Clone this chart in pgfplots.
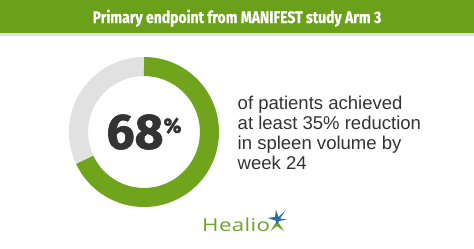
\documentclass[border=0pt]{standalone}
\usepackage{fontspec}
\usepackage{pgfplots}
\usepackage{pgfplotstable}
\pgfplotsset{compat=1.18}
\setmainfont{Liberation Sans}
\newfontfamily\headfont[FakeStretch=0.84,BoldFeatures={FakeBold=0.6}]{Fira Sans}
\newfontfamily\bigfont[BoldFeatures={FakeBold=1.2}]{Fira Sans}
\newfontfamily\logofont[FakeStretch=1.26,LetterSpace=2]{Open Sans}

\definecolor{hgreen}{HTML}{6BA01B}
\definecolor{ringgreen}{HTML}{6FA41C}
\definecolor{ringgrey}{HTML}{E1E1E1}
\definecolor{txt}{HTML}{333333}
\definecolor{logogreen}{HTML}{6CA42A}
\definecolor{logoblue}{HTML}{2A6AA6}

% share of patients reaching the endpoint, and the remainder
\pgfplotstableread{
segment  share
achieved 68
other    32
}\ringdata

\begin{document}
\begin{tikzpicture}[x=1bp,y=1bp]
\pgfplotstablegetelem{0}{share}\of\ringdata
\let\shareA\pgfplotsretval

% page and header band
\fill[white] (0,0) rectangle (474,248);
\fill[black!12] (0,212) rectangle (474,216);
\fill[hgreen] (0,215) rectangle (474,248);
\node[anchor=base, text=white, font=\headfont\bfseries\fontsize{16.7}{19}\selectfont]
  at (237,225) {Primary endpoint from MANIFEST study Arm 3};

\begin{axis}[
  at={(144bp,116bp)}, anchor=center,
  width=150bp, height=150bp, scale only axis,
  hide axis, xmin=-1, xmax=1, ymin=-1, ymax=1,
  clip=false]
  % full ring in grey, then the achieved share in green (clockwise from the top)
  \addplot[ringgrey, line width=19bp, domain=0:100, samples=240, line join=round]
    ({0.873*cos(90-3.6*x)}, {0.873*sin(90-3.6*x)});
  \addplot[ringgreen, line width=19bp, domain=0:\shareA, samples=180, line join=round]
    ({0.873*cos(90-3.6*x)}, {0.873*sin(90-3.6*x)});
  \node[anchor=center, text=txt, inner sep=0pt] at (axis cs:0.0,0.0)
    {\bigfont\bfseries\fontsize{50}{52}\selectfont \shareA\raisebox{16bp}{\fontsize{21}{23}\selectfont\%}};
\end{axis}

% statement
\begin{scope}[every node/.style={anchor=base west, inner sep=0pt, text=txt,
    font=\fontsize{18.6}{20}\selectfont}]
  \node at (237.5,139) {of patients achieved};
  \node at (237.5,119) {at least 35\% reduction};
  \node at (237.5,99)  {in spleen volume by};
  \node at (237.5,79)  {week 24};
\end{scope}

% logo
\node[anchor=base west, inner sep=0pt, text=logogreen, font=\logofont\fontsize{17.8}{20}\selectfont]
  at (202,16.5) {Healio};
\begin{scope}[shift={(2,0)}]
\fill[logogreen] (268.5,17) -- (275,27.5) -- (282,17) -- (275,22) -- cycle;
\fill[logoblue] (274,38) -- (276.5,31) -- (283.5,37.5) -- (278,29.5) -- (285,28.5)
  -- (277,27) -- (275,23.5) -- (273.5,27.5) -- (265.5,30) -- (273,31) -- cycle;
\end{scope}
\end{tikzpicture}
\end{document}
